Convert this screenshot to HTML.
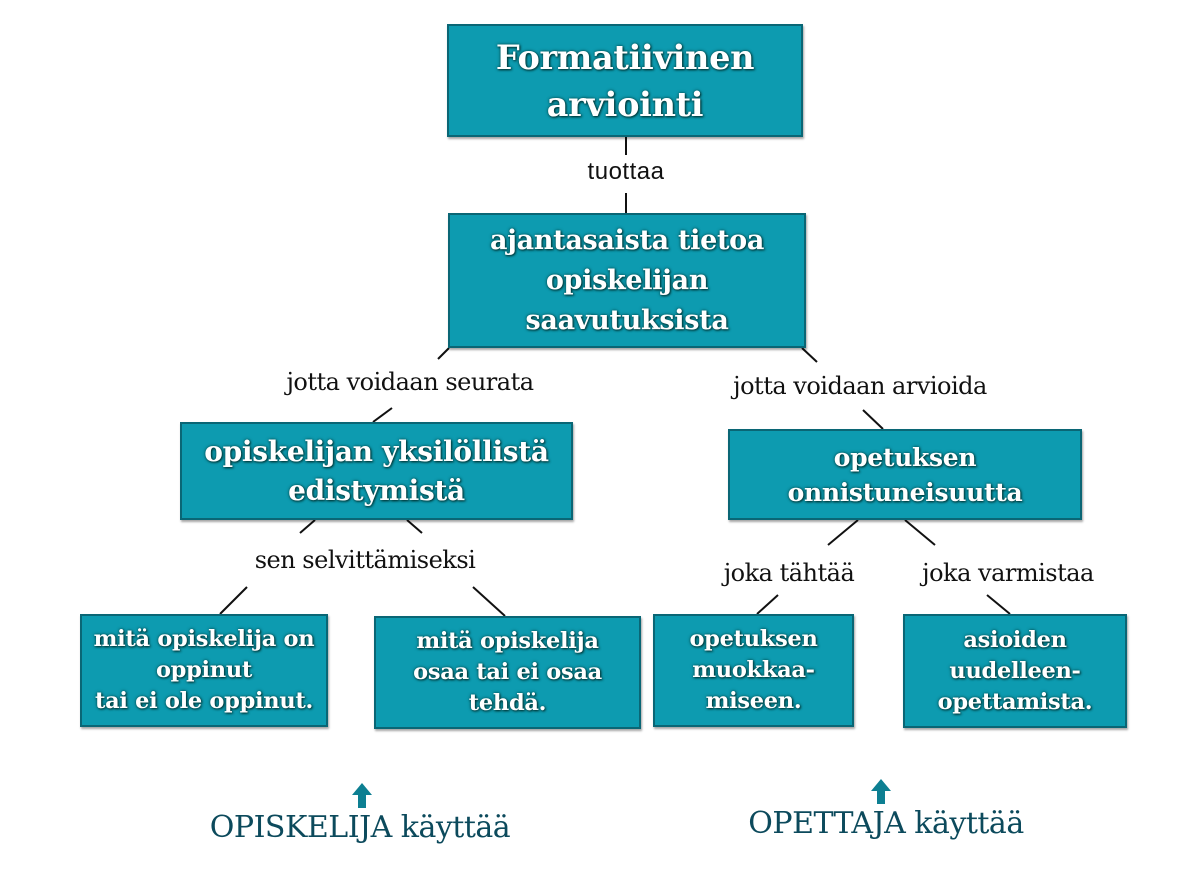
<!DOCTYPE html>
<html><head><meta charset="utf-8"><style>
body{margin:0;width:1186px;height:878px;background:#fff;position:relative;overflow:hidden;font-family:"DejaVu Serif","Liberation Serif",serif}
.b{position:absolute;box-sizing:border-box;background:#0d9bb0;border:2px solid #0a6675;box-shadow:1px 2px 2px rgba(0,0,0,.35);color:#fff;font-weight:bold;text-align:center;display:flex;align-items:center;justify-content:center;text-shadow:1px 1px 2px #033,0 0 3px #044;line-height:1.2;letter-spacing:-0.3px}
.l{position:absolute;font-size:24px;color:#111;white-space:nowrap;transform:translateX(-50%);letter-spacing:-0.5px}
.c{position:absolute;font-size:30px;color:#0c4a5c;white-space:nowrap;transform:translateX(-50%);letter-spacing:-0.5px}
</style></head><body>
<svg style="position:absolute;left:0;top:0" width="1186" height="878">
<g stroke="#111" stroke-width="2">
<line x1="626" y1="137" x2="626" y2="155"/><line x1="626" y1="193" x2="626" y2="213"/>
<line x1="449" y1="348" x2="438" y2="359"/><line x1="373" y1="422" x2="392" y2="408"/>
<line x1="315" y1="520" x2="300" y2="533"/><line x1="407" y1="520" x2="422" y2="533"/>
<line x1="247" y1="587" x2="220" y2="614"/><line x1="473" y1="587" x2="505" y2="616"/>
<line x1="802" y1="348" x2="817" y2="362"/><line x1="863" y1="410" x2="883" y2="429"/>
<line x1="858" y1="520" x2="828" y2="545"/><line x1="905" y1="520" x2="935" y2="545"/>
<line x1="778" y1="595" x2="757" y2="614"/><line x1="987" y1="595" x2="1010" y2="614"/>
</g>
<g fill="#0d7f92">
<path d="M362 783 L352 795 L358 795 L358 808 L366 808 L366 795 L372 795 Z"/>
<path d="M881 779 L871 791 L877 791 L877 804 L885 804 L885 791 L891 791 Z"/>
</g>
</svg>
<div class="b" style="left:447px;top:24px;width:356px;height:113px;font-size:33.5px;line-height:47px">Formatiivinen<br>arviointi</div>
<div class="l" style="left:626px;top:158px;font-family:'Liberation Sans',sans-serif;font-size:24px;letter-spacing:0.5px">tuottaa</div>
<div class="b" style="left:448px;top:213px;width:358px;height:135px;font-size:27px;line-height:40px">ajantasaista tietoa<br>opiskelijan<br>saavutuksista</div>
<div class="l" style="left:410px;top:368px">jotta voidaan seurata</div>
<div class="l" style="left:860px;top:372px">jotta voidaan arvioida</div>
<div class="b" style="left:180px;top:422px;width:393px;height:98px;font-size:28px;line-height:39px">opiskelijan yksilöllistä<br>edistymistä</div>
<div class="b" style="left:728px;top:429px;width:354px;height:91px;font-size:25px;line-height:35px">opetuksen<br>onnistuneisuutta</div>
<div class="l" style="left:365px;top:546px">sen selvittämiseksi</div>
<div class="l" style="left:789px;top:559px">joka tähtää</div>
<div class="l" style="left:1008px;top:559px">joka varmistaa</div>
<div class="b" style="left:80px;top:614px;width:248px;height:113px;font-size:22.5px;line-height:31px">mitä opiskelija on<br>oppinut<br>tai ei ole oppinut.</div>
<div class="b" style="left:374px;top:616px;width:267px;height:113px;font-size:22.5px;line-height:31px">mitä opiskelija<br>osaa tai ei osaa<br>tehdä.</div>
<div class="b" style="left:653px;top:614px;width:201px;height:113px;font-size:22.5px;line-height:31px">opetuksen<br>muokkaa-<br>miseen.</div>
<div class="b" style="left:903px;top:614px;width:224px;height:114px;font-size:22.5px;line-height:31px">asioiden<br>uudelleen-<br>opettamista.</div>
<div class="c" style="left:360px;top:810px">OPISKELIJA käyttää</div>
<div class="c" style="left:886px;top:806px">OPETTAJA käyttää</div>
</body></html>
